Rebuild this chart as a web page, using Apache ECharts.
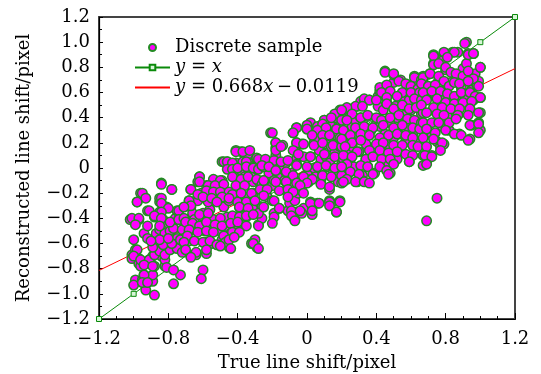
<!DOCTYPE html>
<html><head><meta charset="utf-8">
<script src="https://cdn.jsdelivr.net/npm/echarts@6/dist/echarts.min.js"></script>
<style>html,body{margin:0;padding:0;background:#fff}#c{width:541px;height:374px}</style>
</head><body><div id="c"></div>
<script>
// ---- data ----
const xAxisTitle = 'True line shift/pixel';
const yAxisTitle = 'Reconstructed line shift/pixel';
const seriesNames = ['Discrete sample', 'y = x', 'y = 0.668x−0.0119'];

const identityLine = [[-1.2,-1.2],[-1.0,-1.0],[1.0,1.0],[1.2,1.2]];
const fitLine = [[-1.2,-0.814],[1.2,0.790]];

const samplesOverview = [
[-1.02,-0.41],[-1.0,-0.57],[-0.99,-0.43],[-0.97,-0.41],[-0.98,-0.27],[-0.96,-0.2],[-0.94,-0.23],[-0.92,-0.34],[-0.94,-0.52],[-0.92,-0.56],
[-1.01,-0.69],[-1.01,-0.72],[-0.99,-0.65],[-0.97,-0.72],[-0.97,-0.76],[-0.96,-0.78],[-0.99,-0.89],[-1.0,-0.93],[-0.95,-0.89],[-0.93,-0.97],
[-0.94,-0.85],[-0.91,-0.73],[-0.88,-1.01],[-0.89,-0.9],[-0.89,-0.85],[-0.88,-0.78],[-0.89,-0.7],[-0.87,-0.68],[-0.87,-0.65],[-0.84,-0.63],
[-0.84,-0.7],[-0.82,-0.78],[-0.82,-0.73],[-0.82,-0.68],[-0.8,-0.64],[-0.78,-0.6],[-0.77,-0.92],[-0.73,-0.85],[-0.88,-0.39],[-0.87,-0.52],
[-0.85,-0.49],[-0.85,-0.35],[-0.85,-0.27],[-0.85,-0.24],[-0.84,-0.12],[-0.81,-0.31],[-0.83,-0.41],[-0.8,-0.44],[-0.82,-0.52],[-0.79,-0.5],
[-0.77,-0.48],[-0.78,-0.17],[-0.76,-0.4],[-0.75,-0.34],[-0.74,-0.41],[-0.75,-0.56],[-0.74,-0.63],[-0.72,-0.49],[-0.71,-0.56],[-0.69,-0.41],
[-0.68,-0.5],[-0.68,-0.58],[-0.67,-0.7],[-0.68,-0.26],[-0.67,-0.17],[-0.67,-0.31],[-0.66,-0.36],[-0.65,-0.41],[-0.64,-0.49],[-0.64,-0.69],
[-0.63,-0.26],[-0.63,-0.11],[-0.62,-0.07],[-0.61,-0.2],[-0.6,-0.36],[-0.6,-0.45],[-0.59,-0.5],[-0.6,-0.81],[-0.61,-0.88],[-0.58,-0.68],
[-0.58,-0.59],[-0.56,-0.33],[-0.57,-0.27],[-0.58,-0.14],[-0.56,-0.49],[-0.54,-0.41],[-0.53,-0.5],[-0.55,-0.6],[-0.52,-0.26],[-0.52,-0.2],
[-0.53,-0.1],[-0.5,-0.15],[-0.49,-0.1],[-0.49,0.05],[-0.48,-0.31],[-0.47,-0.2],[-0.46,-0.39],[-0.47,-0.49],[-0.5,-0.5],[-0.49,-0.57],
[-0.48,-0.6],[-0.46,0.05],[-0.45,-0.63],[-0.44,-0.52],[-0.44,-0.44],[-0.45,-0.26],[-0.42,-0.04],[-0.43,-0.2],[-0.41,0.14],[-0.41,0.04],
[-0.4,-0.12],[-0.39,-0.31],[-0.41,-0.39],[-0.4,-0.43],[-0.41,-0.5],[-0.38,0.13],[-0.38,-0.02],[-0.37,-0.14],[-0.36,-0.07],[-0.36,-0.31],
[-0.35,-0.39],[-0.34,0.05],[-0.35,-0.23],[-0.34,0.11],[-0.32,0.01],[-0.32,-0.07],[-0.31,-0.11],[-0.31,-0.2],[-0.31,-0.33],[-0.3,-0.57],
[-0.32,-0.6],[-0.29,-0.63],[-0.29,0.08],[-0.29,0.01],[-0.28,-0.1],[-0.28,-0.45],[-0.26,-0.4],[-0.26,-0.31],[-0.25,0.04],[-0.25,-0.1],
[-0.23,-0.23],[-0.22,-0.04],[-0.21,0.28],[-0.2,-0.14],[-0.2,-0.26],[-0.19,-0.36],[-0.18,0.16],[-0.18,0.2],[-0.18,0.1],[-0.18,0.04],
[-0.17,-0.07],[-0.19,-0.1],[-0.14,0.18],[-0.15,0.01],[-0.16,-0.32],[-0.12,0.04],[-0.13,-0.1],[-0.12,-0.18],[-0.11,-0.34],[-0.1,-0.28],
[-0.08,0.28],[-0.07,0.14],[-0.06,0.2],[-0.06,0.07],[-0.07,-0.14],[-0.07,-0.26],[-0.06,-0.35],[-0.07,-0.41],[-0.08,-0.39],[-0.05,-0.2],
[-0.06,0.32],[-0.06,0.03],[-0.1,-0.1],[-0.09,-0.15],[-0.09,-0.04],[-0.04,-0.11],[-0.03,-0.18],[-0.02,-0.32],[-0.03,-0.36],[-0.03,0.19],
[-0.02,0.09],[0.0,0.31],[0.01,-0.02],[0.01,-0.11],[0.02,0.36],[0.02,0.09],[0.02,-0.27],[0.03,-0.37],[0.03,-0.3],[0.04,0.2],
[0.04,0.27],[0.04,0.0],[0.05,-0.07],[0.06,-0.28],[0.06,0.33],[0.06,0.24],[0.07,0.14],[0.08,0.07],[0.08,-0.1],[0.09,-0.06],
[0.1,0.38],[0.1,0.29],[0.11,0.19],[0.11,0.09],[0.12,0.01],[0.13,0.04],[0.14,0.33],[0.14,0.25],[0.14,0.17],[0.13,-0.17],
[0.13,-0.26],[0.14,-0.28],[0.15,-0.04],[0.16,0.4],[0.16,0.12],[0.17,0.26],[0.17,-0.35],[0.18,-0.11],[0.19,0.33],[0.19,-0.26],
[0.19,0.17],[0.2,0.03],[0.2,0.41],[0.21,0.46],[0.21,0.09],[0.22,-0.06],[0.22,0.19],[0.23,0.13],[0.23,0.0],[0.24,0.47],
[0.25,0.27],[0.25,0.07],[0.26,0.33],[0.26,0.17],[0.27,0.01],[0.28,0.38],[0.29,0.49],[0.29,-0.11],[0.3,0.26],[0.3,0.13],
[0.31,0.53],[0.31,0.4],[0.32,-0.06],[0.32,-0.1],[0.33,0.54],[0.34,0.19],[0.34,0.07],[0.35,0.41],[0.35,0.01],[0.36,0.54],
[0.37,0.3],[0.38,0.15],[0.39,-0.04],[0.4,0.35],[0.41,0.49],[0.41,0.57],[0.42,0.61],[0.42,0.33],[0.42,0.17],[0.43,0.12],
[0.44,0.46],[0.45,0.77],[0.45,0.27],[0.46,0.65],[0.46,0.21],[0.46,0.52],[0.47,0.04],[0.48,-0.04],[0.48,0.36],[0.48,0.17],
[0.49,0.1],[0.5,0.68],[0.5,0.74],[0.5,0.24],[0.51,0.49],[0.52,0.4],[0.52,0.07],[0.53,0.27],[0.54,0.7],[0.54,0.17],
[0.55,0.54],[0.56,0.42],[0.57,0.21],[0.58,0.33],[0.59,0.05],[0.59,0.65],[0.59,0.54],[0.6,0.46],[0.61,0.27],[0.61,0.18],
[0.62,0.73],[0.62,0.68],[0.63,0.36],[0.64,0.62],[0.65,0.21],[0.66,0.57],[0.66,0.43],[0.67,0.73],[0.67,0.1],[0.68,0.65],
[0.68,0.34],[0.69,0.04],[0.69,-0.42],[0.71,0.75],[0.72,0.1],[0.72,0.27],[0.73,0.9],[0.73,0.83],[0.74,0.58],[0.74,0.45],
[0.75,-0.24],[0.75,0.21],[0.76,0.7],[0.77,0.86],[0.77,0.17],[0.78,0.54],[0.78,0.33],[0.79,0.91],[0.79,0.19],[0.8,0.78],
[0.8,0.62],[0.81,0.41],[0.82,0.3],[0.83,0.68],[0.84,0.92],[0.85,0.54],[0.86,0.74],[0.87,0.92],[0.87,0.42],[0.88,0.27],
[0.89,0.64],[0.9,0.79],[0.91,0.57],[0.92,1.0],[0.92,0.83],[0.93,0.91],[0.93,0.69],[0.94,0.23],[0.94,0.47],[0.95,0.34],
[0.95,0.62],[0.96,0.91],[0.96,0.54],[0.97,0.75],[0.98,0.66],[0.99,0.69],[1.0,0.8],[1.0,0.56],[1.0,0.44],[1.0,0.3],[0.99,0.36]
];

const samplesLowerLeft = [
[-0.84,-0.13],[-0.78,-0.17],[-0.95,-0.2],[-0.93,-0.24],[-0.84,-0.24],[-0.98,-0.27],[-0.84,-0.28],[-0.8,-0.32],[-0.91,-0.34],[-0.84,-0.35],
[-0.74,-0.34],[-0.88,-0.38],[-1.01,-0.4],[-0.97,-0.4],[-0.84,-0.4],[-0.79,-0.43],[-0.74,-0.41],[-0.99,-0.45],[-0.92,-0.46],[-0.85,-0.46],
[-0.98,-0.65],[-1.0,-0.7],[-0.96,-0.73],[-0.91,-0.73],[-0.88,-0.69],[-0.85,-0.66],[-0.82,-0.69],[-0.79,-0.65],[-0.75,-0.64],[-0.72,-0.67],
[-0.89,-0.63],[-0.83,-0.61],[-0.78,-0.6],[-0.73,-0.57],[-0.85,-0.57],[-0.8,-0.56],[-0.9,-0.58],[-0.94,-0.77],[-0.89,-0.78],[-0.81,-0.79],
[-0.94,-0.85],[-0.95,-0.91],[-0.92,-0.91],[-0.77,-0.81]
];

const samplesLowerMid = [
[-0.41,0.13],[-0.37,0.13],[-0.33,0.14],[-0.48,0.05],[-0.46,0.05],[-0.43,0.04],[-0.37,0.05],[-0.35,0.05],[-0.28,0.07],[-0.46,-0.01],
[-0.43,-0.01],[-0.4,0.0],[-0.35,0.01],[-0.31,0.0],[-0.28,-0.01],[-0.25,0.01],[-0.62,-0.07],[-0.54,-0.09],[-0.5,-0.1],[-0.43,-0.07],
[-0.38,-0.09],[-0.34,-0.07],[-0.29,-0.09],[-0.62,-0.11],[-0.57,-0.14],[-0.53,-0.14],[-0.48,-0.13],[-0.41,-0.14],[-0.36,-0.14],[-0.26,-0.13],
[-0.67,-0.17],[-0.58,-0.18],[-0.54,-0.19],[-0.5,-0.19],[-0.45,-0.19],[-0.43,-0.21],[-0.38,-0.2],[-0.32,-0.2],[-0.27,-0.17],[-0.63,-0.21],
[-0.68,-0.26],[-0.6,-0.23],[-0.55,-0.24],[-0.49,-0.23],[-0.45,-0.24],[-0.4,-0.27],[-0.35,-0.27],[-0.3,-0.26],[-0.67,-0.3],[-0.71,-0.31],
[-0.52,-0.27],[-0.39,-0.31],[-0.34,-0.32],[-0.28,-0.36],[-0.62,-0.37],[-0.57,-0.36],[-0.5,-0.4],[-0.43,-0.38],[-0.39,-0.39],[-0.35,-0.38],
[-0.31,-0.37],[-0.71,-0.4],[-0.7,-0.43],[-0.66,-0.44],[-0.62,-0.46],[-0.58,-0.43],[-0.53,-0.45],[-0.49,-0.46],[-0.44,-0.44],[-0.4,-0.43],
[-0.35,-0.46],[-0.28,-0.46],[-0.68,-0.49],[-0.63,-0.51],[-0.58,-0.5],[-0.54,-0.51],[-0.48,-0.54],[-0.43,-0.51],[-0.39,-0.51],[-0.69,-0.54],
[-0.65,-0.58],[-0.6,-0.59],[-0.56,-0.58],[-0.52,-0.61],[-0.47,-0.59],[-0.45,-0.57],[-0.42,-0.55],[-0.31,-0.6],[-0.28,-0.64],[-0.71,-0.59],
[-0.7,-0.65],[-0.64,-0.67],[-0.58,-0.65],[-0.5,-0.62],[-0.44,-0.64],[-0.67,-0.71]
];

const samplesCentre = [
[0.19,0.46],[0.16,0.43],[0.1,0.38],[0.14,0.4],[0.2,0.38],[0.0,0.34],[0.09,0.35],[-0.06,0.32],[0.0,0.31],[0.06,0.3],
[0.11,0.32],[0.17,0.31],[-0.08,0.28],[-0.2,0.28],[0.03,0.26],[0.09,0.26],[0.13,0.26],[0.19,0.24],[-0.06,0.2],[-0.02,0.19],
[0.04,0.18],[0.09,0.2],[0.15,0.18],[0.2,0.17],[-0.18,0.2],[-0.18,0.14],[-0.15,0.17],[-0.08,0.14],[-0.05,0.11],[0.02,0.09],
[0.1,0.11],[0.16,0.09],[0.21,0.07],[-0.24,0.07],[-0.19,0.06],[-0.15,0.05],[-0.11,0.06],[-0.06,0.02],[0.0,0.01],[0.06,0.01],
[0.11,0.02],[0.16,0.0],[-0.26,0.02],[-0.22,0.01],[-0.18,-0.02],[-0.12,-0.03],[-0.08,-0.06],[-0.02,-0.07],[0.03,-0.09],[0.09,-0.06],
[0.14,-0.07],[0.2,-0.06],[-0.25,-0.1],[-0.18,-0.11],[-0.12,-0.11],[-0.06,-0.12],[0.0,-0.12],[0.08,-0.13],[0.13,-0.15],[0.2,-0.12],
[-0.23,-0.17],[-0.16,-0.18],[-0.11,-0.17],[-0.04,-0.14],[-0.08,-0.19],[-0.02,-0.2],[-0.25,-0.22],[-0.19,-0.26],[-0.11,-0.23],[0.02,-0.28],
[0.07,-0.28],[0.13,-0.27],[0.19,-0.27],[0.13,-0.3],[-0.25,-0.31],[-0.16,-0.32],[-0.09,-0.34],[-0.04,-0.34],[0.03,-0.34],[0.17,-0.35],
[-0.19,-0.39],[-0.09,-0.38],[-0.07,-0.42],[-0.2,-0.44]
];

const samplesUpperMid = [
[0.45,0.76],[0.5,0.75],[0.62,0.72],[0.66,0.7],[0.42,0.64],[0.46,0.66],[0.53,0.69],[0.57,0.67],[0.6,0.65],[0.64,0.63],
[0.43,0.6],[0.48,0.61],[0.55,0.6],[0.6,0.6],[0.65,0.6],[0.46,0.56],[0.52,0.57],[0.62,0.55],[0.66,0.54],[0.33,0.55],
[0.36,0.54],[0.4,0.54],[0.28,0.49],[0.32,0.49],[0.23,0.48],[0.46,0.51],[0.5,0.47],[0.55,0.5],[0.59,0.47],[0.63,0.48],
[0.67,0.44],[0.2,0.46],[0.26,0.43],[0.31,0.4],[0.35,0.42],[0.4,0.4],[0.43,0.38],[0.48,0.4],[0.53,0.42],[0.58,0.39],
[0.62,0.38],[0.66,0.36],[0.23,0.38],[0.28,0.32],[0.33,0.33],[0.38,0.32],[0.44,0.34],[0.5,0.32],[0.55,0.34],[0.61,0.32],
[0.65,0.31],[0.21,0.3],[0.25,0.26],[0.31,0.27],[0.36,0.26],[0.42,0.24],[0.47,0.26],[0.52,0.27],[0.57,0.26],[0.61,0.24],
[0.2,0.23],[0.26,0.2],[0.31,0.22],[0.4,0.19],[0.44,0.2],[0.5,0.18],[0.55,0.18],[0.61,0.18],[0.64,0.17],[0.22,0.17],
[0.29,0.13],[0.36,0.14],[0.42,0.14],[0.47,0.12],[0.52,0.13],[0.57,0.11],[0.61,0.1],[0.21,0.1],[0.26,0.09],[0.34,0.07],
[0.38,0.09],[0.43,0.07],[0.48,0.07],[0.5,0.03],[0.59,0.05],[0.67,0.02],[0.23,0.03],[0.31,0.02],[0.35,0.01],[0.42,0.01],
[0.46,-0.02],[0.2,0.01],[0.25,-0.03],[0.3,-0.05],[0.38,-0.05],[0.47,-0.05],[0.23,-0.09],[0.28,-0.11],[0.33,-0.11],[0.36,-0.12],
[0.21,-0.11]
];

const samplesUpperRight = [
[0.91,0.99],[0.79,0.92],[0.85,0.92],[0.73,0.89],[0.93,0.9],[0.96,0.91],[0.78,0.85],[0.81,0.88],[0.73,0.82],[0.76,0.83],
[0.8,0.8],[1.0,0.8],[0.83,0.76],[0.67,0.72],[0.71,0.75],[0.76,0.73],[0.86,0.75],[0.9,0.73],[0.93,0.77],[0.96,0.71],
[0.66,0.67],[0.7,0.65],[0.74,0.66],[0.79,0.69],[0.82,0.65],[0.85,0.68],[0.88,0.67],[0.93,0.69],[0.99,0.65],[0.67,0.6],
[0.72,0.61],[0.77,0.61],[0.81,0.59],[0.85,0.57],[0.89,0.6],[0.94,0.6],[0.97,0.57],[1.0,0.56],[0.69,0.54],[0.75,0.55],
[0.8,0.52],[0.85,0.51],[0.9,0.52],[0.95,0.53],[0.66,0.5],[0.73,0.48],[0.78,0.48],[0.83,0.47],[0.88,0.47],[0.94,0.47],
[0.99,0.44],[0.69,0.44],[0.75,0.43],[0.79,0.42],[0.87,0.42],[0.93,0.42],[0.67,0.36],[0.72,0.36],[0.76,0.36],[0.82,0.36],
[0.86,0.39],[0.94,0.34],[0.99,0.35],[0.69,0.31],[0.74,0.28],[0.8,0.3],[0.85,0.27],[0.89,0.26],[0.99,0.28],[0.67,0.24],
[0.73,0.23],[0.78,0.2],[0.93,0.22],[0.69,0.17],[0.77,0.14],[0.68,0.1],[0.72,0.09],[0.69,0.03]
];

// ---- chart ----
const FONT = 'DejaVu Serif';
const FS = 18;
const samples = [].concat(samplesOverview, samplesLowerLeft, samplesLowerMid, samplesCentre, samplesUpperMid, samplesUpperRight);
function fmt(v){ if (Math.abs(v) < 1e-9) return '0'; return (v < 0 ? '\u2212' : '') + Math.abs(v).toFixed(1); }

const chart = echarts.init(document.getElementById('c'), null, {renderer: 'canvas'});
const italic = { fontStyle: 'italic', fontFamily: FONT, fontSize: FS, color: '#000' };
chart.setOption({
  animation: false,
  backgroundColor: '#fff',
  grid: { left: 99, top: 17, width: 416, height: 302, containLabel: false, outerBoundsMode: 'none',
          show: true, borderColor: '#444', borderWidth: 2, backgroundColor: 'transparent' },
  legend: {
    orient: 'vertical', left: 129, top: 33, itemWidth: 35, itemHeight: 7, itemGap: 1,
    data: [
      { name: seriesNames[0] },
      { name: seriesNames[1] },
      { name: seriesNames[2], itemStyle: { opacity: 0 } }
    ],
    textStyle: { fontFamily: FONT, fontSize: FS, color: '#000', lineHeight: 19, rich: { i: italic } },
    formatter: function(n){
      if (n === seriesNames[1]) return '{i|y} = {i|x}';
      if (n === seriesNames[2]) return '{i|y} = 0.668{i|x}\u2009\u2212\u20090.0119';
      return n;
    }
  },
  xAxis: {
    type: 'value', min: -1.2, max: 1.2, interval: 0.4,
    name: xAxisTitle, nameLocation: 'middle', nameGap: 35,
    nameTextStyle: { fontFamily: FONT, fontSize: FS, color: '#000' },
    axisLine: { onZero: false, lineStyle: { color: '#000', width: 1.2 } },
    axisTick: { inside: true, length: 6, lineStyle: { color: '#000' } },
    minorTick: { show: true, splitNumber: 4, length: 3, lineStyle: { color: '#000' } },
    splitLine: { show: false },
    axisLabel: { margin: 11, fontFamily: FONT, fontSize: FS, color: '#000', formatter: fmt }
  },
  yAxis: {
    type: 'value', min: -1.2, max: 1.2, interval: 0.2,
    name: yAxisTitle, nameLocation: 'middle', nameGap: 66, nameRotate: 90,
    nameTextStyle: { fontFamily: FONT, fontSize: FS, color: '#000' },
    axisLine: { onZero: false, lineStyle: { color: '#000', width: 1.2 } },
    axisTick: { inside: true, length: 4, lineStyle: { color: '#000' } },
    minorTick: { show: true, splitNumber: 2, length: 3, lineStyle: { color: '#000' } },
    splitLine: { show: false },
    axisLabel: { margin: 9, fontFamily: FONT, fontSize: FS, color: '#000', formatter: fmt }
  },
  series: [
    { name: seriesNames[0], type: 'scatter', data: samples, symbol: 'circle', symbolSize: 9.5, z: 5,
      itemStyle: { color: '#ff00ff', borderColor: '#238b23', borderWidth: 1.5, opacity: 1 } },
    { name: seriesNames[1], type: 'line', data: identityLine, symbol: 'rect', symbolSize: 5, showSymbol: true, z: 2,
      lineStyle: { color: '#0a8a0a', width: 1 },
      itemStyle: { color: '#d8f5d8', borderColor: '#0a8a0a', borderWidth: 1 } },
    { name: seriesNames[2], type: 'line', data: fitLine, showSymbol: false, symbol: 'none', z: 2,
      lineStyle: { color: '#ff0000', width: 1 }, itemStyle: { color: '#ff0000' } }
  ]
});
</script>
</body></html>
